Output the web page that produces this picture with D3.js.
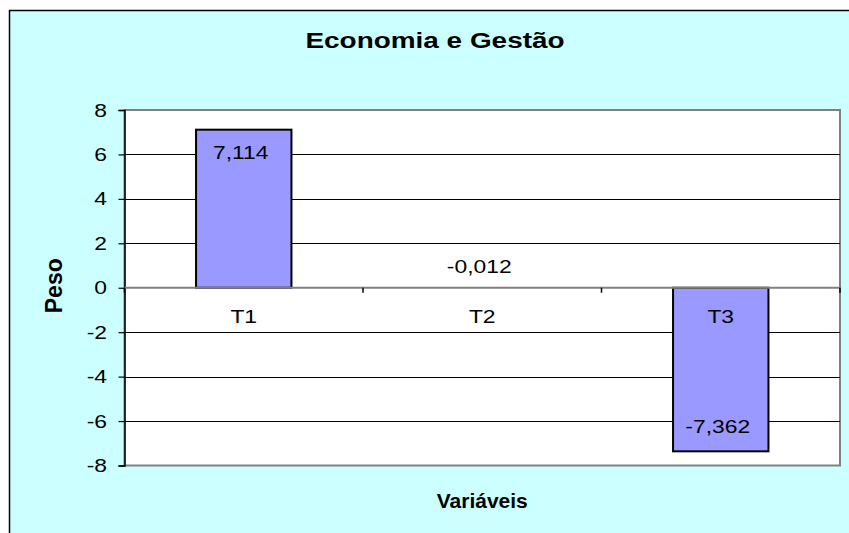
<!DOCTYPE html>
<html>
<head>
<meta charset="utf-8">
<script src="https://cdn.jsdelivr.net/npm/d3@7"></script>
<style>
  html, body { margin: 0; padding: 0; background: #ffffff; }
  svg { display: block; font-family: "Liberation Sans", Arial, sans-serif; }
</style>
</head>
<body>
<svg id="chart" width="849" height="533"></svg>
<script>
const categories = ["T1", "T2", "T3"];
const values = [7.114, -0.012, -7.362];
const valueLabels = ["7,114", "-0,012", "-7,362"];
const yTicks = [-8, -6, -4, -2, 0, 2, 4, 6, 8];
const title = "Economia e Gestão";
const xTitle = "Variáveis";
const yTitle = "Peso";

const svg = d3.select("#chart");
const plot = { left: 124.5, right: 840, top: 110, bottom: 465.5 };
const SX = 1.27;

// outer chart area (clipped by the window on right and bottom)
svg.append("rect")
  .attr("x", 9.5).attr("y", 10.5)
  .attr("width", 900).attr("height", 600)
  .attr("fill", "#CCFFFF").attr("stroke", "#000").attr("stroke-width", 1.5);

const x = d3.scaleBand().domain(categories)
  .range([plot.left, plot.right]).paddingInner(0.6).paddingOuter(0.3);
const y = d3.scaleLinear().domain([-8, 8]).range([plot.bottom, plot.top]);

// plot area
svg.append("rect")
  .attr("x", plot.left).attr("y", plot.top)
  .attr("width", plot.right - plot.left).attr("height", plot.bottom - plot.top)
  .attr("fill", "#ffffff").attr("stroke", "#808080").attr("stroke-width", 2);

// gridlines
svg.append("g").selectAll("line")
  .data(yTicks.filter(d => d !== 0 && Math.abs(d) !== 8))
  .join("line")
  .attr("x1", plot.left).attr("x2", plot.right)
  .attr("y1", d => Math.round(y(d)) + 0.5).attr("y2", d => Math.round(y(d)) + 0.5)
  .attr("stroke", "#000").attr("stroke-width", 1);

function stretchedText(g, tx, ty, txt, sx, anchor) {
  return g.append("text")
    .attr("transform", `translate(${tx},${ty}) scale(${sx},1)`)
    .attr("text-anchor", anchor || "middle")
    .text(txt);
}

// y axis
const yAxis = d3.axisLeft(y).tickValues(yTicks).tickSize(6).tickFormat(d3.format("d"));
const yg = svg.append("g").attr("transform", `translate(${plot.left},0)`).call(yAxis);
yg.select(".domain").attr("stroke", "#000").attr("stroke-width", 1.5);
yg.selectAll(".tick line").attr("stroke", "#000").attr("stroke-width", 1.2);
yg.selectAll(".tick text").remove();
yTicks.forEach(t => {
  stretchedText(svg, 107, y(t) + 6.5, String(t), SX, "end")
    .attr("font-size", 18).attr("fill", "#000");
});

// bars
svg.append("g").selectAll("rect")
  .data(categories.map((c, i) => ({ c, v: values[i] })))
  .join("rect")
  .attr("x", d => x(d.c))
  .attr("width", x.bandwidth())
  .attr("y", d => y(Math.max(0, d.v)))
  .attr("height", d => Math.abs(y(d.v) - y(0)))
  .attr("fill", "#9999FF")
  .attr("stroke", d => Math.abs(y(d.v) - y(0)) < 1 ? "none" : "#000")
  .attr("stroke-width", 2);

// category axis at zero
svg.append("line")
  .attr("x1", plot.left).attr("x2", plot.right)
  .attr("y1", y(0)).attr("y2", y(0))
  .attr("stroke", "#808080").attr("stroke-width", 2);
const step = x.step();
svg.append("g").selectAll("line")
  .data(d3.range(categories.length + 1))
  .join("line")
  .attr("x1", i => plot.left + i * step).attr("x2", i => plot.left + i * step)
  .attr("y1", y(0)).attr("y2", y(0) + 5)
  .attr("stroke", "#000").attr("stroke-width", 1.5);

// category labels
categories.forEach(c => {
  stretchedText(svg, x(c) + x.bandwidth() / 2, y(0) + 35.5, c, SX)
    .attr("font-size", 18).attr("fill", "#000");
});

// data labels
categories.forEach((c, i) => {
  const v = values[i];
  let ty;
  if (v > 1) ty = y(v) + 29;
  else if (v < -1) ty = y(v) - 18;
  else ty = y(0) - 14.5;
  stretchedText(svg, x(c) + x.bandwidth() / 2 - 3, ty, valueLabels[i], SX)
    .attr("font-size", 18).attr("fill", "#000");
});

// title
stretchedText(svg, 435, 48, title, SX)
  .attr("font-size", 22).attr("font-weight", "bold").attr("fill", "#000");

// axis titles
svg.append("text")
  .attr("x", (plot.left + plot.right) / 2).attr("y", 508)
  .attr("text-anchor", "middle")
  .attr("font-size", 21).attr("font-weight", "bold").attr("fill", "#000")
  .text(xTitle);

svg.append("text")
  .attr("transform", `translate(61.5,${(plot.top + plot.bottom) / 2 - 2}) rotate(-90)`)
  .attr("text-anchor", "middle")
  .attr("font-size", 23).attr("font-weight", "bold").attr("fill", "#000")
  .text(yTitle);
</script>
</body>
</html>
